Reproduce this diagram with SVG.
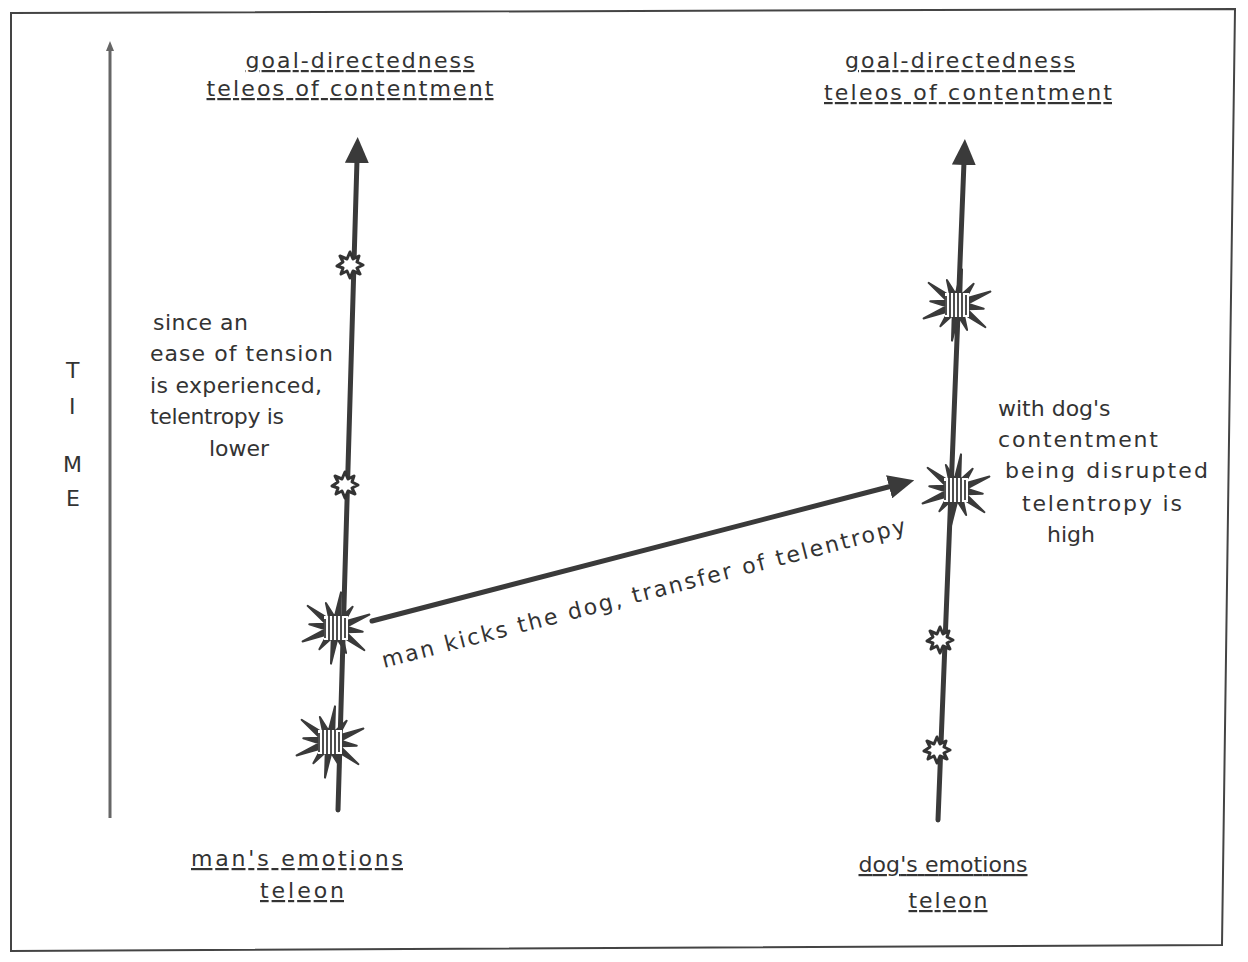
<svg xmlns="http://www.w3.org/2000/svg" width="1248" height="962" viewBox="0 0 1248 962">
<style>
.t{font-family:"DejaVu Sans","Liberation Sans",sans-serif;font-size:22px;fill:#333}
.h{font-family:"DejaVu Sans","Liberation Sans",sans-serif;font-size:22px;fill:#333;text-decoration:underline}
.ln{stroke:#3a3a3a;stroke-width:5;fill:none;stroke-linecap:round}
</style>
<defs>
<marker id="ah" markerUnits="userSpaceOnUse" markerWidth="26" markerHeight="24" refX="3" refY="12" orient="auto">
<path d="M0,0 L26,12 L0,24 z" fill="#3a3a3a"/>
</marker>
<marker id="ahs" markerUnits="userSpaceOnUse" markerWidth="10" markerHeight="8" refX="1" refY="4" orient="auto">
<path d="M0,0 L10,4 L0,8 z" fill="#666"/>
</marker>
<g id="big">
<polygon transform="rotate(8)" points="0,-36 2.8,-10.6 13.5,-23.4 7.8,-7.8 31.2,-18 10.6,-2.8 27,0 10.6,2.8 31.2,18 7.8,7.8 13.5,23.4 2.8,10.6 0,36 -2.8,10.6 -13.5,23.4 -7.8,7.8 -31.2,18 -10.6,2.8 -27,0 -10.6,-2.8 -31.2,-18 -7.8,-7.8 -13.5,-23.4 -2.8,-10.6" fill="#3a3a3a" stroke="#3a3a3a" stroke-width="2" stroke-linejoin="round"/>
<rect x="-12" y="-12" width="24" height="24" fill="#fff"/>
<g stroke="#3a3a3a" stroke-width="1.8">
<line x1="-11" y1="-9" x2="-11" y2="10"/><line x1="-7" y1="-12" x2="-7" y2="13"/><line x1="-3" y1="-12" x2="-3" y2="13"/><line x1="1" y1="-12" x2="1" y2="13"/><line x1="5" y1="-12" x2="5" y2="12"/><line x1="9" y1="-10" x2="9" y2="10"/>
</g>
</g>
<g id="small">
<polygon points="0,-13 3,-6 9,-9 7,-3 13,0 7,3 10,9 3,6 0,13 -3,6 -9,9 -7,3 -13,1 -7,-3 -10,-9 -3,-6" fill="#fff" stroke="#333" stroke-width="3" stroke-linejoin="round"/>
</g>
</defs>
<rect width="1248" height="962" fill="#fff"/>
<polygon id="frame" points="11,13 1235,9 1222,945 11,951" fill="none" stroke="#444" stroke-width="2"/>

<g id="connectors">
<line x1="110" y1="818" x2="110" y2="50" stroke="#666" stroke-width="3" marker-end="url(#ahs)"/>
<line class="ln" x1="338" y1="810" x2="357" y2="160" marker-end="url(#ah)"/>
<line class="ln" x1="938" y1="820" x2="964" y2="162" marker-end="url(#ah)"/>
<line class="ln" x1="372" y1="621" x2="892" y2="486" marker-end="url(#ah)"/>
<text class="t" font-size="23" transform="translate(384,668) rotate(-14.5)" textLength="540" lengthAdjust="spacing">man kicks the dog, transfer of telentropy</text>
</g>

<g id="time">
<text class="t" font-size="23" x="66" y="378">T</text>
<text class="t" font-size="23" x="69" y="414">I</text>
<text class="t" font-size="23" x="63" y="472">M</text>
<text class="t" font-size="23" x="66" y="506">E</text>
</g>

<g id="man-top">
<text class="h" x="360" y="68" text-anchor="middle" textLength="229" lengthAdjust="spacing">goal-directedness</text>
<text class="h" x="350" y="96" text-anchor="middle" textLength="287" lengthAdjust="spacing">teleos of contentment</text>
</g>
<g id="dog-top">
<text class="h" x="960" y="68" text-anchor="middle" textLength="230" lengthAdjust="spacing">goal-directedness</text>
<text class="h" x="968" y="100" text-anchor="middle" textLength="288" lengthAdjust="spacing">teleos of contentment</text>
</g>
<g id="man-bottom">
<text class="h" x="297" y="866" text-anchor="middle" textLength="212" lengthAdjust="spacing">man's emotions</text>
<text class="h" x="302" y="898" text-anchor="middle" textLength="84" lengthAdjust="spacing">teleon</text>
</g>
<g id="dog-bottom">
<text class="h" x="943" y="872" text-anchor="middle" textLength="169" lengthAdjust="spacing">dog's emotions</text>
<text class="h" x="948" y="908" text-anchor="middle" textLength="79" lengthAdjust="spacing">teleon</text>
</g>

<g id="man-note">
<text class="t" x="153" y="330" textLength="95">since an</text>
<text class="t" x="150" y="361" textLength="183">ease of tension</text>
<text class="t" x="150" y="393" textLength="172">is experienced,</text>
<text class="t" x="150" y="424" textLength="134">telentropy is</text>
<text class="t" x="209" y="456">lower</text>
</g>
<g id="dog-note">
<text class="t" x="998" y="416">with dog's</text>
<text class="t" x="998" y="447" textLength="160">contentment</text>
<text class="t" x="1005" y="478" textLength="203">being disrupted</text>
<text class="t" x="1022" y="511" textLength="160">telentropy is</text>
<text class="t" x="1047" y="542">high</text>
</g>

<g id="man-events">
<use href="#small" x="350" y="265"/>
<use href="#small" x="345" y="485"/>
<use href="#big" x="336" y="628"/>
<use href="#big" x="330" y="742"/>
</g>
<g id="dog-events">
<use href="#big" x="957" y="305"/>
<use href="#big" x="956" y="490"/>
<use href="#small" x="940" y="640"/>
<use href="#small" x="937" y="750"/>
</g>
</svg>
